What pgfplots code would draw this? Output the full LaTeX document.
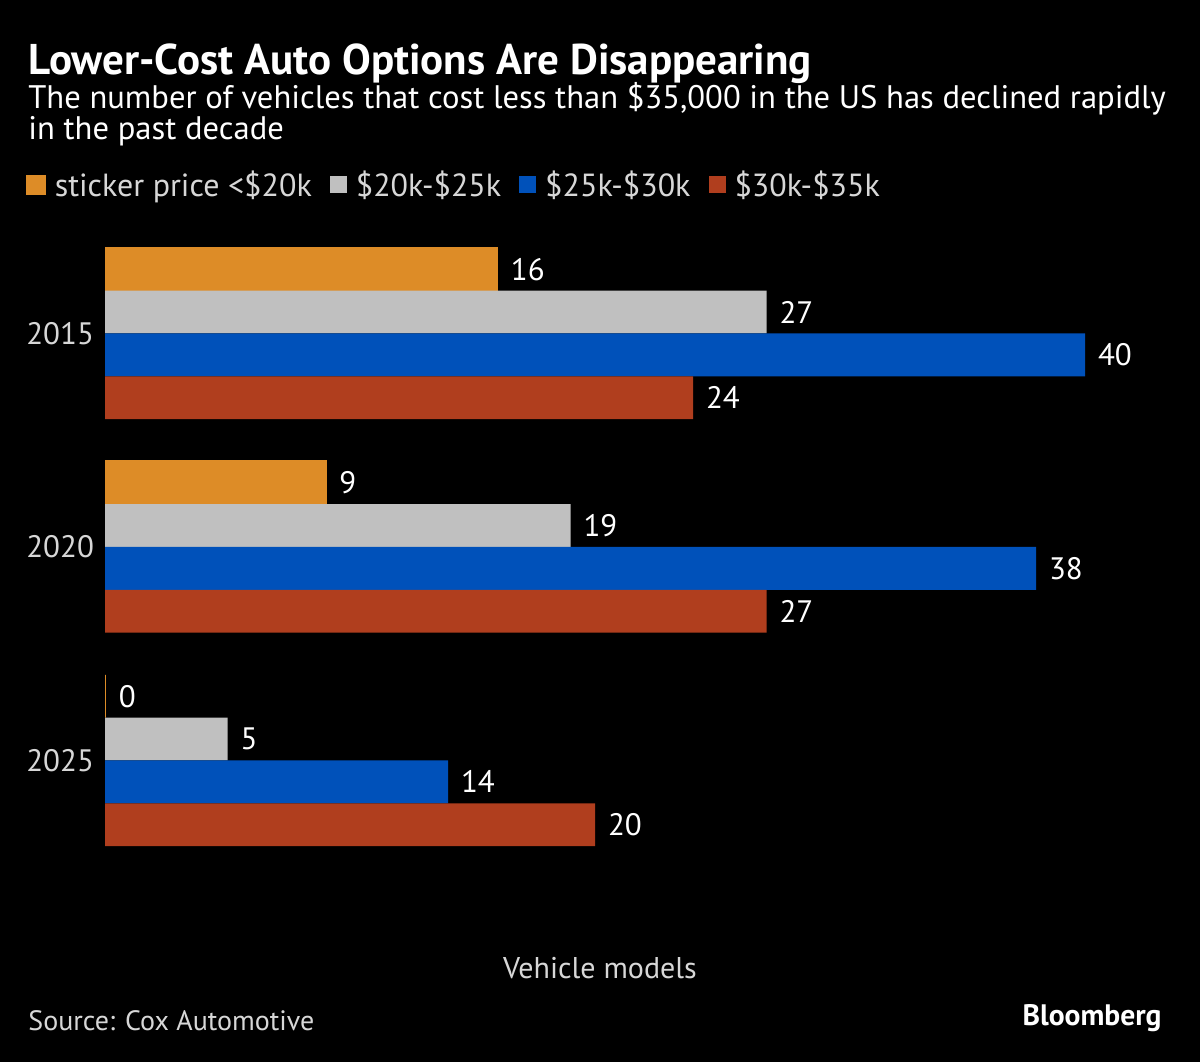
\documentclass[border=0pt]{standalone}
\usepackage{pgfplots}
\pgfplotsset{compat=1.18}
\usepackage{fontspec}
\setmainfont{PT Sans}
\definecolor{cOrange}{RGB}{221,140,39}
\definecolor{cGray}{RGB}{192,192,192}
\definecolor{cBlue}{RGB}{0,81,186}
\definecolor{cRed}{RGB}{176,62,30}
\definecolor{txt}{RGB}{215,215,215}

\begin{document}
\begin{tikzpicture}
\fill[black] (0,0) rectangle (600pt,531pt);
% titles
\node[anchor=base west, inner sep=0, text=white, font=\fontsize{21.5}{25}\selectfont\bfseries] at (14pt,493.5pt) {Lower-Cost Auto Options Are Disappearing};
\node[anchor=base west, inner sep=0, text=white, font=\fontsize{16.3}{19}\selectfont] at (14pt,476.5pt) {The number of vehicles that cost less than \$35,000 in the US has declined rapidly};
\node[anchor=base west, inner sep=0, text=white, font=\fontsize{16.3}{19}\selectfont] at (14pt,461pt) {in the past decade};

\begin{axis}[
  at={(52.5pt,97.4pt)}, anchor=south west,
  scale only axis, width=490pt, height=320.25pt,
  /pgf/number format/assume math mode=true,
  xbar, bar width=21.4pt,
  xmin=0, xmax=40,
  ymin=-0.5, ymax=2.5, y dir=reverse,
  ytick={0,1,2}, yticklabels={2015,2020,2025},
  xtick=\empty,
  axis line style={draw=none},
  major tick length=0pt,
  tick label style={text=txt, font=\fontsize{15.5}{18}\selectfont},
  yticklabel style={xshift=-2pt},
  xlabel={Vehicle models},
  xlabel style={at={(axis description cs:0.5,-0.157)}, anchor=center, xshift=2.5pt, text=txt, font=\fontsize{15}{18}\selectfont},
  nodes near coords,
  nodes near coords style={text=white, font=\fontsize{15.5}{18}\selectfont, xshift=3pt},
  legend style={at={(axis description cs:-0.0867,1.0652)}, anchor=west, draw=none, fill=none,
    text=txt, font=\fontsize{16}{19}\selectfont, legend columns=-1,
    /tikz/every even column/.append style={column sep=7pt}},
  legend image code/.code={\fill[#1] (0pt,-4.25pt) rectangle (8.5pt,4.25pt); \path (11pt,0pt);},
]
\addplot[fill=cOrange, draw=cOrange, line width=1.2pt, bar shift=32.1pt] coordinates {(16,0) (9,1) (0,2)};
\addplot[fill=cGray, draw=none, bar shift=10.7pt] coordinates {(27,0) (19,1) (5,2)};
\addplot[fill=cBlue, draw=none, bar shift=-10.7pt] coordinates {(40,0) (38,1) (14,2)};
\addplot[fill=cRed, draw=none, bar shift=-32.1pt] coordinates {(24,0) (27,1) (20,2)};
\legend{sticker price <\$20k, \$20k-\$25k, \$25k-\$30k, \$30k-\$35k}
\end{axis}

\node[anchor=west, inner sep=0, text=txt, font=\fontsize{14}{16}\selectfont] at (14pt,20.5pt) {Source: Cox Automotive};
\node[anchor=east, inner sep=0, text=white, font=\fontsize{14.8}{17}\selectfont\bfseries] at (581pt,22pt) {Bloomberg};
\end{tikzpicture}
\end{document}
